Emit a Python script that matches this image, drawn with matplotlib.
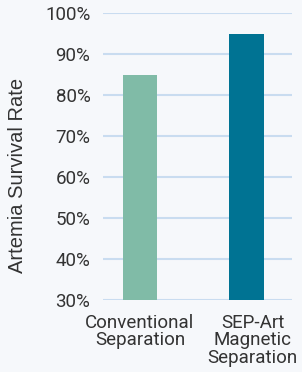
import matplotlib.pyplot as plt
from matplotlib.transforms import ScaledTranslation

# data
categories = ["Conventional\nSeparation", "SEP-Art\nMagnetic\nSeparation"]
survival = [85, 95]
colors = ["#80bba7", "#007393"]
yticks = [30, 40, 50, 60, 70, 80, 90, 100]

plt.rcParams['font.family'] = ['Roboto', 'DejaVu Sans']

fig = plt.figure(figsize=(3.02, 3.72), dpi=100, facecolor="#f6f8fb")
ax = fig.add_axes([0.341, 0.1935, 0.626, 0.7715])
ax.set_facecolor("#f6f8fb")

x = range(len(categories))
ax.bar(x, survival, width=0.32, color=colors, zorder=3)

ax.set_ylim(30, 100)
ax.set_xlim(-0.347, 1.427)
ax.set_yticks(yticks)
ax.set_yticklabels([f"{v}%" for v in yticks])
ax.set_xticks(list(x))
ax.set_xticklabels(categories, linespacing=0.95)
ax.tick_params(axis="both", length=0, labelsize=13.5, colors="#333333")
ax.tick_params(axis="x", pad=10)
ax.tick_params(axis="y", pad=9)
ax.grid(axis="y", color="#c9dcf0", linewidth=1.5, zorder=0)
for s in ax.spines.values():
    s.set_visible(False)

# second label sits a little to the right in the original
lbl = ax.get_xticklabels()[1]
lbl.set_transform(lbl.get_transform() + ScaledTranslation(0.06, 0, fig.dpi_scale_trans))

fig.text(18 / 302, 1 - 175.5 / 372, "Artemia Survival Rate", rotation=90,
         ha="center", va="center", fontsize=14.5, color="#333333",
         family=["Liberation Sans", "DejaVu Sans"])

fig.savefig("out.png", dpi=100, facecolor=fig.get_facecolor())
